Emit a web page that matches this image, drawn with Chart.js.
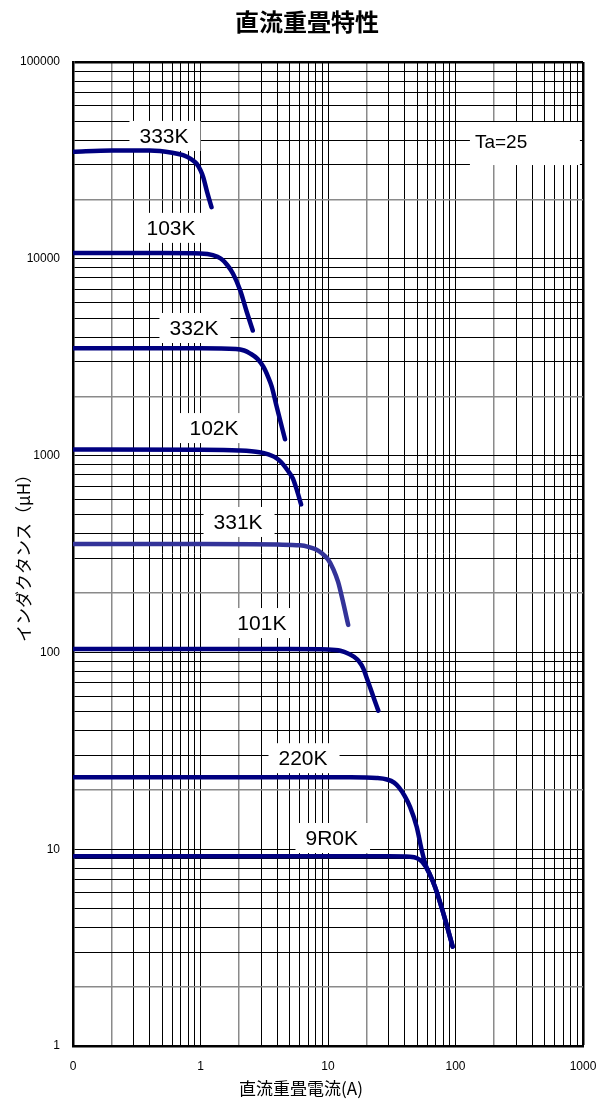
<!DOCTYPE html>
<html>
<head>
<meta charset="utf-8">
<script src="https://cdn.jsdelivr.net/npm/chart.js@4.4.0/dist/chart.umd.min.js"></script>
<style>
  html, body { margin: 0; padding: 0; background: #fff; }
</style>
</head>
<body>
<canvas id="chart" width="598" height="1102"></canvas>
<script>
// Axis ticks (log-log, the left end 0.1 is printed as "0")
const xDecades = [0.1, 1, 10, 100, 1000];
const xTickLabels = ['0', '1', '10', '100', '1000'];
const yDecades = [1, 10, 100, 1000, 10000, 100000];
const yTickLabels = ['1', '10', '100', '1000', '10000', '100000'];
const gridSteps = [1, 2, 3, 4, 5, 6, 7, 8, 9];

// DC bias current (A) / inductance (uH)
const current333K = [0.1, 0.2, 0.4, 0.6, 0.73, 0.85, 0.93, 1.0, 1.05, 1.13, 1.22];
const induct333K  = [35000, 35500, 35500, 34600, 33600, 32000, 30500, 28200, 26000, 21700, 18300];

const current103K = [0.1, 0.5, 1.0, 1.25, 1.45, 1.62, 1.8, 2.05, 2.3, 2.57];
const induct103K  = [10700, 10700, 10650, 10450, 10000, 9300, 8400, 6900, 5400, 4320];

const current332K = [0.1, 1.0, 1.9, 2.2, 2.44, 2.8, 3.11, 3.4, 3.62, 3.96, 4.6];
const induct332K  = [3510, 3510, 3480, 3420, 3310, 3100, 2830, 2500, 2240, 1770, 1210];

const current102K = [0.1, 1.0, 2.0, 2.9, 3.4, 3.8, 4.3, 4.8, 5.3, 5.7, 6.15];
const induct102K  = [1075, 1072, 1062, 1040, 1015, 985, 925, 845, 765, 668, 565];

const current331K = [0.1, 1.0, 4.0, 6.0, 7.0, 8.0, 9.0, 10.0, 11.0, 12.0, 13.0, 14.4];
const induct331K  = [355, 355, 353, 350, 344, 334, 318, 297, 265, 228, 185, 138];

const current101K = [0.1, 5, 10, 12.5, 14.5, 16, 17.5, 18.9, 20, 21.3, 23, 24.8];
const induct101K  = [104, 104, 103.5, 102, 98.5, 95, 90, 83, 75, 66.9, 58, 50.6];

const current220K = [0.1, 15, 24, 29, 33, 36, 40, 44, 49.6, 54.3, 58, 62, 69, 80.3, 95];
const induct220K  = [23.2, 23.2, 23.0, 22.6, 21.8, 20.6, 18.6, 16.4, 13.0, 9.9, 8.4, 7.6, 6.45, 4.72, 3.2];

const current9R0K = [0.1, 30, 44, 50, 55, 62, 69, 80.3, 95];
const induct9R0K  = [9.2, 9.2, 9.15, 9.0, 8.6, 7.6, 6.45, 4.72, 3.2];

const seriesNames = ['333K', '103K', '332K', '102K', '331K', '101K', '220K', '9R0K'];
const seriesCurrent = [current333K, current103K, current332K, current102K, current331K, current101K, current220K, current9R0K];
const seriesInduct = [induct333K, induct103K, induct332K, induct102K, induct331K, induct101K, induct220K, induct9R0K];
const seriesColors = ['#000080', '#000080', '#000080', '#000080', '#333399', '#000080', '#000080', '#000080'];

// curve name tags, anchored in data units (text centre)
const tagX = [0.517, 0.587, 0.889, 1.276, 1.97, 3.03, 6.37, 10.7];
const tagY = [42100, 14360, 4450, 1380, 460, 141, 29, 11.4];

const LATIN = '"Liberation Sans", Arial, sans-serif';
const CJK = '"Noto Sans CJK JP", "Noto Sans", sans-serif';

function gridValues(decades) {
    const out = [];
    decades.forEach((d, i) => {
        if (i === decades.length - 1) { out.push(d); return; }
        gridSteps.forEach(s => out.push(+(d * s).toPrecision(3)));
    });
    return out;
}

function mantissa(v) {
    return Math.round(v / Math.pow(10, Math.floor(Math.log10(v) + 1e-9)));
}

function gridColor(c) {
    return mantissa(c.tick.value) === 2 ? '#8a8a8a' : '#000';
}

const datasets = seriesNames.map((name, i) => ({
    label: name,
    data: seriesCurrent[i].map((x, j) => ({ x: x, y: seriesInduct[i][j] })),
    borderColor: seriesColors[i],
    borderWidth: 4.5,
    borderCapStyle: 'round',
    borderJoinStyle: 'round',
    pointRadius: 0,
    cubicInterpolationMode: 'monotone',
    fill: false
}));

const tagPlugin = {
    id: 'tags',
    beforeDatasetsDraw(chart) {
        const ctx = chart.ctx;
        const xs = chart.scales.x, ys = chart.scales.y;
        ctx.save();
        ctx.font = '21px ' + LATIN;
        ctx.textAlign = 'center';
        ctx.textBaseline = 'middle';
        seriesNames.forEach((name, i) => {
            const px = xs.getPixelForValue(tagX[i]);
            const py = ys.getPixelForValue(tagY[i]);
            const w = ctx.measureText(name).width;
            ctx.fillStyle = '#fff';
            ctx.fillRect(px - w / 2 - 10, py - 15, w + 22, 30);
            ctx.fillStyle = '#000';
            ctx.fillText(name, px, py + 1);
        });
        // temperature note
        const tx = xs.getPixelForValue(142);
        const ty = ys.getPixelForValue(39200);
        ctx.fillStyle = '#fff';
        ctx.fillRect(tx - 5, ty - 20, 110, 43);
        ctx.fillStyle = '#000';
        ctx.font = '19px ' + LATIN;
        ctx.textAlign = 'left';
        ctx.fillText('Ta=25', tx, ty + 1);
        ctx.restore();
    },
    afterDraw(chart) {
        const ctx = chart.ctx;
        ctx.save();
        ctx.fillStyle = '#000';
        ctx.textAlign = 'center';
        ctx.textBaseline = 'middle';
        ctx.font = 'bold 24px ' + CJK;
        ctx.fillText('直流重畳特性', 307, 22);
        ctx.font = '17px ' + CJK;
        ctx.fillText('直流重畳電流(A)', 301, 1089);
        ctx.restore();
    }
};

const ctx = document.getElementById('chart').getContext('2d');
const chart = new Chart(ctx, {
    type: 'line',
    data: { datasets: datasets },
    plugins: [tagPlugin],
    options: {
        responsive: false,
        animation: false,
        layout: { padding: { top: 62, right: 15, bottom: 0, left: 0 } },
        plugins: {
            legend: { display: false },
            tooltip: { enabled: false }
        },
        scales: {
            x: {
                type: 'logarithmic',
                min: 0.1,
                max: 1000,
                afterBuildTicks: s => { s.ticks = gridValues(xDecades).map(v => ({ value: v })); },
                afterFit: s => { s.height = 56; s.paddingLeft = 0; s.paddingRight = 0; },
                ticks: {
                    autoSkip: false,
                    maxRotation: 0,
                    padding: 13,
                    color: '#000',
                    font: { family: LATIN, size: 12 },
                    callback: v => {
                        const k = xDecades.findIndex(d => Math.abs(d - v) < d * 1e-6);
                        return k >= 0 ? xTickLabels[k] : '';
                    }
                },
                grid: {
                    drawTicks: false,
                    color: gridColor,
                    lineWidth: c => (c.tick.value >= 1000 ? 2.5 : mantissa(c.tick.value) === 2 ? 1.5 : 1)
                },
                border: { color: '#000', width: 2.5 }
            },
            y: {
                type: 'logarithmic',
                min: 1,
                max: 100000,
                afterBuildTicks: s => { s.ticks = gridValues(yDecades).map(v => ({ value: v })); },
                afterFit: s => { s.width = 73; s.paddingTop = 0; s.paddingBottom = 0; },
                ticks: {
                    autoSkip: false,
                    padding: 13,
                    color: '#000',
                    font: { family: LATIN, size: 12 },
                    callback: v => {
                        const k = yDecades.findIndex(d => Math.abs(d - v) < d * 1e-6);
                        return k >= 0 ? yTickLabels[k] : '';
                    }
                },
                grid: {
                    drawTicks: false,
                    color: gridColor,
                    lineWidth: c => (c.tick.value >= 100000 ? 2.5 : mantissa(c.tick.value) === 2 ? 1.5 : 1)
                },
                border: { color: '#000', width: 2.5 },
                title: {
                    display: true,
                    text: 'インダクタンス（μH）',
                    color: '#000',
                    font: { family: CJK, size: 17 },
                    padding: { top: 13, bottom: 0 }
                }
            }
        }
    }
});
</script>
</body>
</html>
